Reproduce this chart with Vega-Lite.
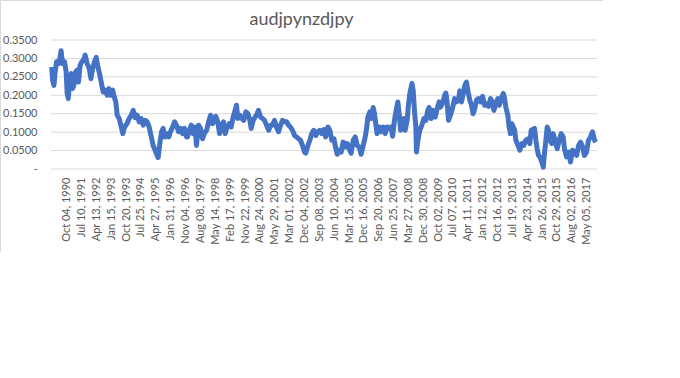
{
  "$schema": "https://vega.github.io/schema/vega-lite/v6.json",
  "width": 603,
  "height": 252,
  "autosize": {"type": "none"},
  "padding": 0,
  "background": "white",
  "config": {"view": {"stroke": "#D9D9D9", "strokeWidth": 1}, "font": "Lato", "axis": {"labelOverlap": false, "labelSeparation": 0}},
  "title": {"text": "audjpynzdjpy", "anchor": "middle", "frame": "group", "fontSize": 18, "fontWeight": "normal", "color": "#595959", "font": "Lato", "offset": 0, "baseline": "alphabetic", "dy": 43},
  "datasets": {
    "grid": [{"g": 0}, {"g": 0.05}, {"g": 0.1}, {"g": 0.15}, {"g": 0.2}, {"g": 0.25}, {"g": 0.3}, {"g": 0.35}],
    "series": [
      {"date": "1990-01-01", "v": 0.277}, {"date": "1990-01-16", "v": 0.241}, {"date": "1990-02-11", "v": 0.227}, {"date": "1990-03-06", "v": 0.264}, {"date": "1990-04-01", "v": 0.291}, {"date": "1990-05-07", "v": 0.286}, {"date": "1990-06-02", "v": 0.300}, {"date": "1990-06-25", "v": 0.321}, {"date": "1990-07-20", "v": 0.286}, {"date": "1990-08-26", "v": 0.291}, {"date": "1990-09-27", "v": 0.264}, {"date": "1990-10-16", "v": 0.205}, {"date": "1990-11-05", "v": 0.191}, {"date": "1990-12-06", "v": 0.245},
      {"date": "1991-01-01", "v": 0.259}, {"date": "1991-01-24", "v": 0.218}, {"date": "1991-02-19", "v": 0.227}, {"date": "1991-03-25", "v": 0.264}, {"date": "1991-04-20", "v": 0.268}, {"date": "1991-05-15", "v": 0.236}, {"date": "1991-06-16", "v": 0.282}, {"date": "1991-07-16", "v": 0.291}, {"date": "1991-08-17", "v": 0.295}, {"date": "1991-09-17", "v": 0.309}, {"date": "1991-10-24", "v": 0.286}, {"date": "1991-12-02", "v": 0.273},
      {"date": "1992-01-03", "v": 0.245}, {"date": "1992-02-03", "v": 0.273}, {"date": "1992-03-10", "v": 0.291}, {"date": "1992-04-10", "v": 0.303}, {"date": "1992-05-11", "v": 0.277}, {"date": "1992-06-17", "v": 0.255}, {"date": "1992-07-24", "v": 0.227}, {"date": "1992-08-19", "v": 0.209}, {"date": "1992-09-25", "v": 0.214}, {"date": "1992-11-03", "v": 0.200}, {"date": "1992-12-04", "v": 0.218},
      {"date": "1993-01-05", "v": 0.200}, {"date": "1993-02-11", "v": 0.214}, {"date": "1993-03-12", "v": 0.196}, {"date": "1993-04-12", "v": 0.182}, {"date": "1993-05-07", "v": 0.146}, {"date": "1993-06-13", "v": 0.137}, {"date": "1993-07-14", "v": 0.119}, {"date": "1993-08-20", "v": 0.096}, {"date": "1993-09-21", "v": 0.114}, {"date": "1993-11-05", "v": 0.123}, {"date": "1993-12-17", "v": 0.137},
      {"date": "1994-01-24", "v": 0.146}, {"date": "1994-03-02", "v": 0.159}, {"date": "1994-04-08", "v": 0.139}, {"date": "1994-05-15", "v": 0.146}, {"date": "1994-06-21", "v": 0.128}, {"date": "1994-07-27", "v": 0.137}, {"date": "1994-09-06", "v": 0.119}, {"date": "1994-10-12", "v": 0.132}, {"date": "1994-11-18", "v": 0.128}, {"date": "1994-12-25", "v": 0.114},
      {"date": "1995-02-03", "v": 0.087}, {"date": "1995-03-09", "v": 0.064}, {"date": "1995-04-16", "v": 0.051}, {"date": "1995-05-22", "v": 0.037}, {"date": "1995-06-11", "v": 0.031}, {"date": "1995-07-12", "v": 0.069}, {"date": "1995-08-13", "v": 0.101}, {"date": "1995-09-13", "v": 0.110}, {"date": "1995-10-14", "v": 0.087}, {"date": "1995-11-20", "v": 0.096}, {"date": "1995-12-27", "v": 0.087},
      {"date": "1996-01-27", "v": 0.101}, {"date": "1996-03-06", "v": 0.114}, {"date": "1996-04-12", "v": 0.128}, {"date": "1996-05-18", "v": 0.119}, {"date": "1996-06-25", "v": 0.101}, {"date": "1996-08-03", "v": 0.110}, {"date": "1996-09-09", "v": 0.096}, {"date": "1996-10-16", "v": 0.110}, {"date": "1996-11-22", "v": 0.087}, {"date": "1996-12-11", "v": 0.087},
      {"date": "1997-01-12", "v": 0.105}, {"date": "1997-02-18", "v": 0.119}, {"date": "1997-03-25", "v": 0.096}, {"date": "1997-05-03", "v": 0.114}, {"date": "1997-05-26", "v": 0.064}, {"date": "1997-07-04", "v": 0.119}, {"date": "1997-08-11", "v": 0.110}, {"date": "1997-09-17", "v": 0.082}, {"date": "1997-10-18", "v": 0.096}, {"date": "1997-12-02", "v": 0.105},
      {"date": "1998-01-08", "v": 0.128}, {"date": "1998-02-14", "v": 0.146}, {"date": "1998-03-21", "v": 0.123}, {"date": "1998-04-27", "v": 0.132}, {"date": "1998-05-22", "v": 0.143}, {"date": "1998-06-28", "v": 0.128}, {"date": "1998-08-01", "v": 0.096}, {"date": "1998-09-07", "v": 0.119}, {"date": "1998-10-14", "v": 0.128}, {"date": "1998-11-14", "v": 0.096}, {"date": "1998-12-21", "v": 0.114},
      {"date": "1999-01-27", "v": 0.123}, {"date": "1999-03-05", "v": 0.114}, {"date": "1999-04-12", "v": 0.141}, {"date": "1999-05-18", "v": 0.159}, {"date": "1999-06-13", "v": 0.173}, {"date": "1999-07-08", "v": 0.137}, {"date": "1999-08-14", "v": 0.146}, {"date": "1999-09-21", "v": 0.137}, {"date": "1999-10-27", "v": 0.132}, {"date": "1999-12-05", "v": 0.155},
      {"date": "2000-01-12", "v": 0.150}, {"date": "2000-02-18", "v": 0.132}, {"date": "2000-03-13", "v": 0.110}, {"date": "2000-04-19", "v": 0.132}, {"date": "2000-05-26", "v": 0.141}, {"date": "2000-07-04", "v": 0.150}, {"date": "2000-07-27", "v": 0.159}, {"date": "2000-09-05", "v": 0.141}, {"date": "2000-10-11", "v": 0.137}, {"date": "2000-11-18", "v": 0.132}, {"date": "2000-12-24", "v": 0.119},
      {"date": "2001-02-03", "v": 0.105}, {"date": "2001-03-09", "v": 0.119}, {"date": "2001-04-15", "v": 0.119}, {"date": "2001-05-22", "v": 0.132}, {"date": "2001-06-28", "v": 0.114}, {"date": "2001-08-06", "v": 0.101}, {"date": "2001-09-13", "v": 0.119}, {"date": "2001-10-19", "v": 0.132}, {"date": "2001-11-25", "v": 0.128},
      {"date": "2002-01-04", "v": 0.128}, {"date": "2002-02-10", "v": 0.119}, {"date": "2002-03-16", "v": 0.114}, {"date": "2002-04-23", "v": 0.105}, {"date": "2002-06-01", "v": 0.091}, {"date": "2002-07-08", "v": 0.087}, {"date": "2002-08-14", "v": 0.082}, {"date": "2002-09-20", "v": 0.078}, {"date": "2002-10-27", "v": 0.064}, {"date": "2002-12-05", "v": 0.046}, {"date": "2002-12-28", "v": 0.043},
      {"date": "2003-02-06", "v": 0.064}, {"date": "2003-03-13", "v": 0.078}, {"date": "2003-04-19", "v": 0.096}, {"date": "2003-05-25", "v": 0.105}, {"date": "2003-07-04", "v": 0.091}, {"date": "2003-08-10", "v": 0.101}, {"date": "2003-09-16", "v": 0.105}, {"date": "2003-10-23", "v": 0.096}, {"date": "2003-12-01", "v": 0.107},
      {"date": "2004-01-02", "v": 0.087}, {"date": "2004-02-14", "v": 0.114}, {"date": "2004-03-20", "v": 0.105}, {"date": "2004-04-27", "v": 0.078}, {"date": "2004-06-05", "v": 0.082}, {"date": "2004-07-11", "v": 0.055}, {"date": "2004-08-06", "v": 0.040}, {"date": "2004-09-13", "v": 0.051}, {"date": "2004-10-19", "v": 0.046}, {"date": "2004-11-25", "v": 0.073},
      {"date": "2005-01-04", "v": 0.060}, {"date": "2005-02-10", "v": 0.069}, {"date": "2005-03-16", "v": 0.055}, {"date": "2005-04-23", "v": 0.043}, {"date": "2005-06-01", "v": 0.078}, {"date": "2005-07-07", "v": 0.087}, {"date": "2005-08-14", "v": 0.064}, {"date": "2005-09-20", "v": 0.060}, {"date": "2005-10-26", "v": 0.040}, {"date": "2005-12-05", "v": 0.064},
      {"date": "2006-01-11", "v": 0.087}, {"date": "2006-02-06", "v": 0.110}, {"date": "2006-03-01", "v": 0.141}, {"date": "2006-04-07", "v": 0.155}, {"date": "2006-05-02", "v": 0.137}, {"date": "2006-06-09", "v": 0.167}, {"date": "2006-07-03", "v": 0.150}, {"date": "2006-07-26", "v": 0.123}, {"date": "2006-08-21", "v": 0.096}, {"date": "2006-09-28", "v": 0.114}, {"date": "2006-11-06", "v": 0.101}, {"date": "2006-12-12", "v": 0.114},
      {"date": "2007-01-19", "v": 0.096}, {"date": "2007-02-25", "v": 0.114}, {"date": "2007-04-03", "v": 0.110}, {"date": "2007-05-10", "v": 0.114}, {"date": "2007-06-05", "v": 0.089}, {"date": "2007-07-11", "v": 0.132}, {"date": "2007-08-06", "v": 0.155}, {"date": "2007-09-12", "v": 0.182}, {"date": "2007-10-07", "v": 0.150}, {"date": "2007-11-02", "v": 0.105}, {"date": "2007-12-08", "v": 0.114},
      {"date": "2008-01-03", "v": 0.137}, {"date": "2008-01-26", "v": 0.105}, {"date": "2008-03-04", "v": 0.132}, {"date": "2008-03-27", "v": 0.173}, {"date": "2008-04-22", "v": 0.205}, {"date": "2008-06-01", "v": 0.232}, {"date": "2008-06-24", "v": 0.214}, {"date": "2008-07-18", "v": 0.159}, {"date": "2008-08-13", "v": 0.114}, {"date": "2008-08-25", "v": 0.046}, {"date": "2008-09-20", "v": 0.078}, {"date": "2008-10-26", "v": 0.105}, {"date": "2008-12-04", "v": 0.119},
      {"date": "2009-01-11", "v": 0.137}, {"date": "2009-02-17", "v": 0.132}, {"date": "2009-03-23", "v": 0.159}, {"date": "2009-04-18", "v": 0.167}, {"date": "2009-05-25", "v": 0.137}, {"date": "2009-07-03", "v": 0.159}, {"date": "2009-08-09", "v": 0.141}, {"date": "2009-09-16", "v": 0.164}, {"date": "2009-10-22", "v": 0.182}, {"date": "2009-11-17", "v": 0.168}, {"date": "2009-12-23", "v": 0.177},
      {"date": "2010-02-02", "v": 0.200}, {"date": "2010-02-25", "v": 0.206}, {"date": "2010-03-20", "v": 0.182}, {"date": "2010-04-15", "v": 0.132}, {"date": "2010-05-21", "v": 0.146}, {"date": "2010-06-27", "v": 0.164}, {"date": "2010-08-06", "v": 0.191}, {"date": "2010-09-12", "v": 0.182}, {"date": "2010-10-18", "v": 0.187}, {"date": "2010-11-13", "v": 0.212}, {"date": "2010-12-14", "v": 0.182},
      {"date": "2011-01-15", "v": 0.205}, {"date": "2011-02-15", "v": 0.227}, {"date": "2011-03-16", "v": 0.236}, {"date": "2011-04-16", "v": 0.209}, {"date": "2011-05-17", "v": 0.187}, {"date": "2011-06-18", "v": 0.173}, {"date": "2011-07-18", "v": 0.150}, {"date": "2011-08-19", "v": 0.164}, {"date": "2011-09-20", "v": 0.187}, {"date": "2011-10-26", "v": 0.191}, {"date": "2011-12-04", "v": 0.182},
      {"date": "2012-01-11", "v": 0.197}, {"date": "2012-02-17", "v": 0.173}, {"date": "2012-03-23", "v": 0.177}, {"date": "2012-05-02", "v": 0.170}, {"date": "2012-06-08", "v": 0.191}, {"date": "2012-07-15", "v": 0.182}, {"date": "2012-08-09", "v": 0.159}, {"date": "2012-09-16", "v": 0.177}, {"date": "2012-10-22", "v": 0.191}, {"date": "2012-11-17", "v": 0.173}, {"date": "2012-12-23", "v": 0.191},
      {"date": "2013-02-02", "v": 0.205}, {"date": "2013-02-25", "v": 0.191}, {"date": "2013-03-20", "v": 0.168}, {"date": "2013-04-26", "v": 0.146}, {"date": "2013-05-21", "v": 0.114}, {"date": "2013-06-16", "v": 0.096}, {"date": "2013-07-11", "v": 0.123}, {"date": "2013-08-06", "v": 0.114}, {"date": "2013-09-01", "v": 0.105}, {"date": "2013-09-24", "v": 0.078}, {"date": "2013-11-02", "v": 0.064}, {"date": "2013-12-08", "v": 0.051},
      {"date": "2014-01-15", "v": 0.069}, {"date": "2014-02-21", "v": 0.064}, {"date": "2014-03-27", "v": 0.078}, {"date": "2014-05-06", "v": 0.082}, {"date": "2014-06-12", "v": 0.069}, {"date": "2014-07-07", "v": 0.105}, {"date": "2014-08-02", "v": 0.107}, {"date": "2014-09-08", "v": 0.110}, {"date": "2014-10-03", "v": 0.078}, {"date": "2014-10-26", "v": 0.055}, {"date": "2014-11-21", "v": 0.037}, {"date": "2014-12-16", "v": 0.033},
      {"date": "2015-01-22", "v": 0.019}, {"date": "2015-02-17", "v": 0.005}, {"date": "2015-03-12", "v": 0.042}, {"date": "2015-04-07", "v": 0.078}, {"date": "2015-05-02", "v": 0.114}, {"date": "2015-05-25", "v": 0.105}, {"date": "2015-06-19", "v": 0.078}, {"date": "2015-07-26", "v": 0.069}, {"date": "2015-08-21", "v": 0.096}, {"date": "2015-09-27", "v": 0.078}, {"date": "2015-11-05", "v": 0.055}, {"date": "2015-12-12", "v": 0.078},
      {"date": "2016-01-18", "v": 0.096}, {"date": "2016-02-24", "v": 0.087}, {"date": "2016-03-19", "v": 0.055}, {"date": "2016-04-26", "v": 0.033}, {"date": "2016-06-04", "v": 0.046}, {"date": "2016-07-10", "v": 0.019}, {"date": "2016-08-17", "v": 0.051}, {"date": "2016-09-23", "v": 0.046}, {"date": "2016-11-02", "v": 0.037}, {"date": "2016-12-08", "v": 0.064},
      {"date": "2017-01-14", "v": 0.073}, {"date": "2017-02-21", "v": 0.060}, {"date": "2017-03-27", "v": 0.037}, {"date": "2017-05-05", "v": 0.046}, {"date": "2017-06-11", "v": 0.078}, {"date": "2017-07-18", "v": 0.087}, {"date": "2017-08-24", "v": 0.101}, {"date": "2017-10-03", "v": 0.078}, {"date": "2017-10-26", "v": 0.073}
    ]
  },
  "layer": [
    {
      "data": {"name": "grid"},
      "mark": {"type": "rule", "color": "#D9D9D9", "strokeWidth": 1},
      "encoding": {
        "y": {"field": "g", "type": "quantitative"},
        "x": {"datum": {"year": 1989, "month": 12, "date": 18, "utc": true}, "type": "temporal"},
        "x2": {"datum": {"year": 2017, "month": 11, "date": 17, "utc": true}}
      }
    },
    {
      "data": {"name": "series"},
      "mark": {"type": "line", "color": "#4472C4", "strokeWidth": 5, "strokeJoin": "round"},
      "encoding": {
        "x": {
          "field": "date", "type": "temporal",
          "scale": {"type": "utc", "domain": [{"year": 1989, "month": 12, "date": 18, "utc": true}, {"year": 2017, "month": 11, "date": 17, "utc": true}], "range": [51, 597]},
          "axis": {
            "title": null, "orient": "bottom", "offset": -83, "grid": false, "domain": false, "ticks": false, "tickCount": 200,
            "format": "%b %d, %Y", "labelAngle": -90, "labelAlign": "right", "labelBaseline": "middle", "labelPadding": 8,
            "labelFont": "Lato", "labelFontSize": 11, "labelColor": "#595959", "labelOverlap": false, "labelSeparation": 0, "labelFlush": false, "labelBound": false,
            "values": [
              {"year": 1990, "month": 10, "date": 4, "utc": true}, {"year": 1991, "month": 7, "date": 10, "utc": true}, {"year": 1992, "month": 4, "date": 13, "utc": true}, {"year": 1993, "month": 1, "date": 15, "utc": true},
              {"year": 1993, "month": 10, "date": 20, "utc": true}, {"year": 1994, "month": 7, "date": 25, "utc": true}, {"year": 1995, "month": 4, "date": 27, "utc": true}, {"year": 1996, "month": 1, "date": 31, "utc": true},
              {"year": 1996, "month": 11, "date": 4, "utc": true}, {"year": 1997, "month": 8, "date": 8, "utc": true}, {"year": 1998, "month": 5, "date": 14, "utc": true}, {"year": 1999, "month": 2, "date": 17, "utc": true},
              {"year": 1999, "month": 11, "date": 22, "utc": true}, {"year": 2000, "month": 8, "date": 24, "utc": true}, {"year": 2001, "month": 5, "date": 29, "utc": true}, {"year": 2002, "month": 3, "date": 1, "utc": true},
              {"year": 2002, "month": 12, "date": 4, "utc": true}, {"year": 2003, "month": 9, "date": 8, "utc": true}, {"year": 2004, "month": 6, "date": 10, "utc": true}, {"year": 2005, "month": 3, "date": 15, "utc": true},
              {"year": 2005, "month": 12, "date": 16, "utc": true}, {"year": 2006, "month": 9, "date": 20, "utc": true}, {"year": 2007, "month": 6, "date": 25, "utc": true}, {"year": 2008, "month": 3, "date": 27, "utc": true},
              {"year": 2008, "month": 12, "date": 30, "utc": true}, {"year": 2009, "month": 10, "date": 2, "utc": true}, {"year": 2010, "month": 7, "date": 7, "utc": true}, {"year": 2011, "month": 4, "date": 11, "utc": true},
              {"year": 2012, "month": 1, "date": 12, "utc": true}, {"year": 2012, "month": 10, "date": 16, "utc": true}, {"year": 2013, "month": 7, "date": 19, "utc": true}, {"year": 2014, "month": 4, "date": 23, "utc": true},
              {"year": 2015, "month": 1, "date": 26, "utc": true}, {"year": 2015, "month": 10, "date": 29, "utc": true}, {"year": 2016, "month": 8, "date": 2, "utc": true}, {"year": 2017, "month": 5, "date": 5, "utc": true}
            ]
          }
        },
        "y": {
          "field": "v", "type": "quantitative",
          "scale": {"domain": [0, 0.35], "range": [169, 40], "nice": false, "zero": true},
          "axis": {
            "title": null, "orient": "left", "offset": -51, "grid": false, "domain": false, "ticks": false, "labelPadding": 14, "tickCount": 100,
            "labelOverlap": false, "labelSeparation": 0, "labelFlush": false, "labelBound": false,
            "values": [0, 0.05, 0.1, 0.15, 0.2, 0.25, 0.3, 0.35],
            "labelExpr": "datum.value == 0 ? '-\u00a0\u00a0' : format(datum.value, '.4f')",
            "labelFont": "Lato", "labelFontSize": 11, "labelColor": "#595959"
          }
        }
      }
    }
  ]
}
